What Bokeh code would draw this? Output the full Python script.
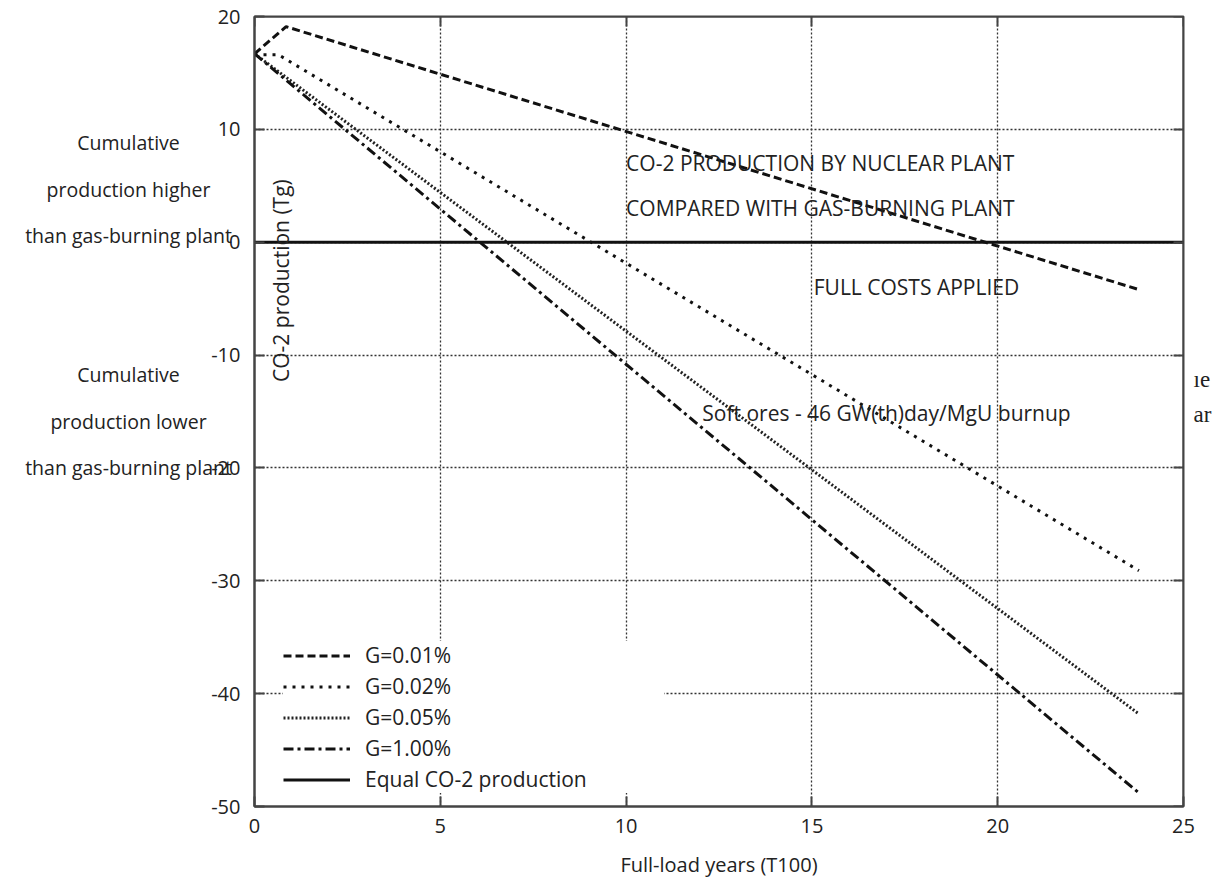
from bokeh.plotting import figure
from bokeh.models import Label, LinearAxis, FixedTicker, Range1d
from bokeh.embed import file_html
from bokeh.resources import INLINE

# ---- data ----
years_g001 = [0.0, 0.85, 23.8]
co2_g001 = [16.7, 19.1, -4.2]
years_g002 = [0.0, 0.65, 23.8]
co2_g002 = [16.6, 16.6, -29.1]
years_g005 = [0.0, 23.8]
co2_g005 = [16.7, -41.8]
years_g100 = [0.0, 23.8]
co2_g100 = [16.7, -48.8]
years_equal = [0.0, 25.0]
co2_equal = [0.0, 0.0]

x_ticks = [0, 5, 10, 15, 20, 25]
y_ticks = [-50, -40, -30, -20, -10, 0, 10, 20]

notes_lines = ["Cumulative", "production higher", "than gas-burning plant", "", "",
               "Cumulative", "production lower", "than gas-burning plant"]
edge_lines = ["ıe", "ar"]

FONT = "Open Sans"
INK = "#111111"
FRAME = "#444444"

p = figure(width=1220, height=880, output_backend="svg", toolbar_location=None,
           x_range=Range1d(0, 25), y_range=Range1d(-50, 20),
           min_border_left=254, min_border_right=37, min_border_top=16, min_border_bottom=74)
p.background_fill_color = "white"
p.border_fill_color = "white"
p.outline_line_color = FRAME
p.outline_line_width = 2

# grid
for g in (p.xgrid, p.ygrid):
    g.grid_line_color = "#333333"
    g.grid_line_dash = "2 2"
    g.grid_line_width = 1.3
p.xgrid.ticker = FixedTicker(ticks=x_ticks)
p.ygrid.ticker = FixedTicker(ticks=y_ticks)

def style_axis(ax):
    ax.axis_line_color = FRAME
    ax.axis_line_width = 2
    ax.major_tick_in = 10
    ax.major_tick_out = 0
    ax.major_tick_line_width = 2
    ax.major_tick_line_color = FRAME
    ax.minor_tick_line_color = None
    ax.major_label_text_font = FONT
    ax.major_label_text_font_size = "20px"
    ax.major_label_text_color = "#222222"

p.xaxis.ticker = FixedTicker(ticks=x_ticks)
p.yaxis.ticker = FixedTicker(ticks=y_ticks)
style_axis(p.xaxis[0])
style_axis(p.yaxis[0])
p.xaxis.major_label_overrides = {t: str(t) for t in x_ticks}
p.yaxis.major_label_overrides = {t: str(t) for t in y_ticks}
p.xaxis.major_label_standoff = 12
p.yaxis.major_label_standoff = 14
p.xaxis.axis_label = "Full-load years (T100)"
p.xaxis.axis_label_text_font = FONT
p.xaxis.axis_label_text_font_size = "20px"
p.xaxis.axis_label_text_font_style = "normal"
p.xaxis.axis_label_text_color = "#222222"
p.xaxis.axis_label_standoff = 15

top_ax = LinearAxis(ticker=FixedTicker(ticks=x_ticks), fixed_location=20)
right_ax = LinearAxis(ticker=FixedTicker(ticks=y_ticks), fixed_location=25)
for ax in (top_ax, right_ax):
    style_axis(ax)
    ax.major_label_text_color = None
    ax.major_label_standoff = 0
p.add_layout(top_ax, "above")
p.add_layout(right_ax, "right")

# series
p.line(years_g001, co2_g001, line_color=INK, line_width=3, line_dash="8 4", legend_label="G=0.01%")
p.line(years_g002, co2_g002, line_color=INK, line_width=3, line_dash="3 6", legend_label="G=0.02%")
p.line(years_g005, co2_g005, line_color="#222222", line_width=3, line_dash="2 2", legend_label="G=0.05%")
p.line(years_g100, co2_g100, line_color=INK, line_width=3, line_dash="10 4 3 4", legend_label="G=1.00%")
p.line(years_equal, co2_equal, line_color=INK, line_width=3, legend_label="Equal CO-2 production")

leg = p.legend[0]
leg.location = (29, 13)
leg.margin = 0
leg.padding = 10
leg.spacing = 3
leg.glyph_width = 67
leg.glyph_height = 21
leg.label_height = 21
leg.label_width = 299
leg.label_standoff = 15
leg.label_text_font = FONT
leg.label_text_font_size = "21px"
leg.label_text_color = "#222222"
leg.border_line_color = None
leg.background_fill_color = "white"
leg.background_fill_alpha = 1.0

def make_label(x, y, text, align="left", size="21px", angle=0.0, font=FONT, line_height=1.2):
    return Label(x=x, y=y, text=text, text_font=font, text_font_size=size,
                 text_color="#222222", text_align=align, text_baseline="middle",
                 angle=angle, text_line_height=line_height)

# in-plot annotations
p.add_layout(make_label(10.0, 7.0, "CO-2 PRODUCTION BY NUCLEAR PLANT"))
p.add_layout(make_label(10.0, 3.0, "COMPARED WITH GAS-BURNING PLANT"))
p.add_layout(make_label(15.05, -4.0, "FULL COSTS APPLIED"))
p.add_layout(make_label(12.05, -15.1, "Soft ores - 46 GW(th)day/MgU burnup"))
p.add_layout(make_label(0.70, -3.4, "CO-2 production (Tg)", align="center", angle=1.5708))

# side notes left of the axis (side panel, so they are not clipped to the frame)
p.add_layout(make_label(-3.39, -5.58, "\n".join(notes_lines), align="center",
                        size="19.5px", line_height=1.72), "left")

# cropped text fragments at the right edge
p.add_layout(make_label(25.27, -13.71, "\n".join(edge_lines), size="23px",
                        font="Liberation Serif", line_height=1.43), "right")

open("out.html", "w").write(file_html(p, INLINE))
